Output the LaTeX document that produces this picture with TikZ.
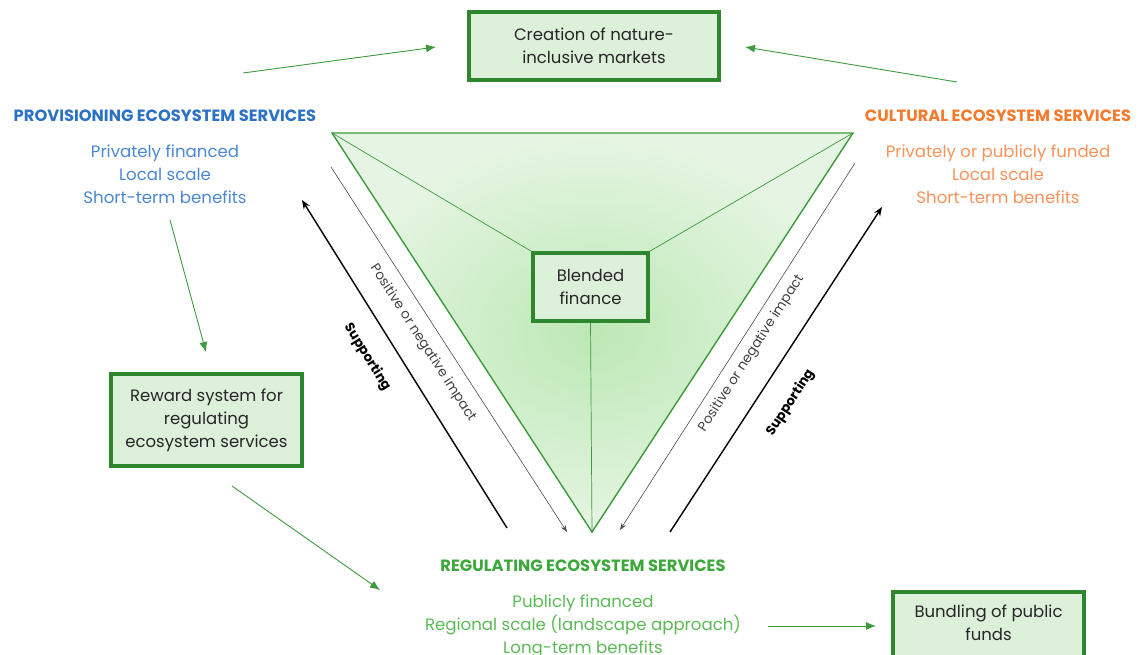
\documentclass[tikz,border=0pt]{standalone}
\usepackage{fontspec}
\setmainfont{Poppins}
\usetikzlibrary{arrows.meta,positioning}
\definecolor{boxgreen}{HTML}{2E862E}
\definecolor{boxfill}{HTML}{DDF0DA}
\definecolor{flowgreen}{HTML}{3E9A3E}
\definecolor{trigreen}{HTML}{3C993C}
\definecolor{triin}{HTML}{BCE8B5}
\definecolor{triout}{HTML}{E6F5E3}
\definecolor{provblue}{HTML}{2C72C4}
\definecolor{provbluel}{HTML}{4A88D2}
\definecolor{cultorange}{HTML}{F47A2C}
\definecolor{cultorangel}{HTML}{F6925A}
\definecolor{reggreen}{HTML}{3CA83A}
\definecolor{reggreenl}{HTML}{5CBA56}
\newcommand{\servtitle}[1]{\fontsize{16.3}{18}\selectfont\bfseries #1}

\begin{document}
\begin{tikzpicture}[x=1pt,y=-1pt,
    fundbox/.style={draw=boxgreen,line width=3.5pt,fill=boxfill,align=center,
      text=black!85,font=\fontsize{16.5}{23}\selectfont,inner sep=2pt},
    servlines/.style={align=center,font=\fontsize{16.6}{23}\selectfont},
    flow/.style={flowgreen,line width=0.9pt,-{Latex[length=10pt,width=8pt]}},
    spoke/.style={trigreen,line width=0.7pt},
    impact/.style={black!70,line width=0.6pt},
    support/.style={black,line width=1.4pt},
    impacttip/.style={-{Stealth[length=7pt,width=5pt]}},
    impactback/.style={{Stealth[length=7pt,width=5pt]}-},
    supporttip/.style={-{Stealth[length=9pt,width=7pt]}},
    supportback/.style={{Stealth[length=9pt,width=7pt]}-},
    impactlbl/.style={sloped,font=\fontsize{13.5}{15}\selectfont,text=black!75},
    supportlbl/.style={sloped,font=\fontsize{13.2}{15}\selectfont\bfseries,text=black}
  ]
  \useasboundingbox (0,0) rectangle (1139,654);
  \clip (0,0) rectangle (1139,654);

  % triangle
  \coordinate (tl) at (332,133);
  \coordinate (tr) at (853,133);
  \coordinate (tb) at (592,532);
  \shadedraw[draw=trigreen,line width=1.4pt,inner color=triin,
    outer color=triout] (tl) -- (tr) -- (tb) -- cycle;

  % boxes
  \node[fundbox,minimum width=250pt,minimum height=68pt] (market) at (594,46)
    {Creation of nature-\\inclusive markets};
  \node[fundbox,minimum width=115pt,minimum height=68pt] (blended) at (590.5,287)
    {Blended\\finance};
  \node[fundbox,minimum width=191pt,minimum height=92pt] (reward) at (206.5,420)
    {Reward system for\\regulating\\ecosystem services};
  \node[fundbox,minimum width=191pt,minimum height=92pt,anchor=north] (bundling) at (988.5,590)
    {Bundling of public\\funds\\\strut};

  \draw[spoke] (tl) -- (blended.north west);
  \draw[spoke] (tr) -- (blended.north east);
  \draw[spoke] (blended.south) -- (tb);

  % service groups
  \node[text=provblue] (provtitle) at (165,116) {\servtitle{PROVISIONING ECOSYSTEM SERVICES}};
  \node[servlines,text=provbluel,below=16pt of provtitle] (provlines)
    {Privately financed\\Local scale\\Short-term benefits};
  \node[text=cultorange] (culttitle) at (998,116) {\servtitle{CULTURAL ECOSYSTEM SERVICES}};
  \node[servlines,text=cultorangel,below=16pt of culttitle] (cultlines)
    {Privately or publicly funded\\Local scale\\Short-term benefits};
  \node[text=reggreen] (regtitle) at (583,566) {\servtitle{REGULATING ECOSYSTEM SERVICES}};
  \node[servlines,text=reggreenl,below=16pt of regtitle] (reglines)
    {Publicly financed\\Regional scale (landscape approach)\\Long-term benefits};

  % green flows
  \coordinate (f1a) at (243,73);   \coordinate (f1b) at (436,47);
  \coordinate (f2a) at (957,82);   \coordinate (f2b) at (745,47);
  \coordinate (f3a) at (170,220);  \coordinate (f3b) at (206,352);
  \coordinate (f4a) at (232,486);  \coordinate (f4b) at (380,590);
  \coordinate (f5a) at (768,626);  \coordinate (f5b) at (876,626);
  \draw[flow] (f1a) -- (f1b);
  \draw[flow] (f2a) -- (f2b);
  \draw[flow] (f3a) -- (f3b);
  \draw[flow] (f4a) -- (f4b);
  \draw[flow] (f5a) -- (f5b);

  % impact / supporting arrows
  \coordinate (il0) at (331,167);  \coordinate (il1) at (567,532);
  \coordinate (sl0) at (302,200);  \coordinate (sl1) at (507,528);
  \coordinate (ir0) at (855,163);  \coordinate (ir1) at (620,530);
  \coordinate (sr0) at (882,207);  \coordinate (sr1) at (670,532);
  \draw[impact,impacttip] (il0) -- node[impactlbl,below=8pt,pos=.455] {Positive or negative impact} (il1);
  \draw[support,supportback] (sl0) -- node[supportlbl,below=17pt,pos=.434] {Supporting} (sl1);
  \draw[impact,impactback] (ir1) -- node[impactlbl,below=5pt,pos=.504] {Positive or negative impact} (ir0);
  \draw[support,supporttip] (sr1) -- node[supportlbl,below=19pt,pos=.449] {Supporting} (sr0);
\end{tikzpicture}
\end{document}
